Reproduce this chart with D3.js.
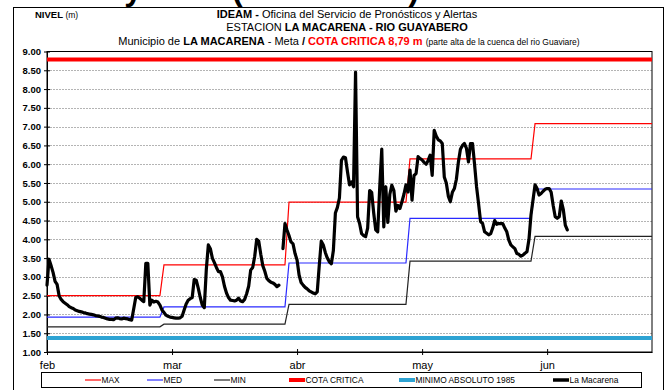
<!DOCTYPE html>
<html>
<head>
<meta charset="utf-8">
<script src="https://cdn.jsdelivr.net/npm/d3@7"></script>
<style>
  html, body { margin: 0; padding: 0; background: #fff; }
  svg { display: block; }
  .narrow { font-family: "Liberation Sans Narrow", "Arial Narrow", "Liberation Sans", Arial, sans-serif; }
  .sans { font-family: "Liberation Sans", Arial, sans-serif; }
</style>
</head>
<body>
<svg id="chart" width="671" height="390"></svg>
<script>
// Axis categories: one tick every 31 days, labelled with the month
const monthLabels = ["feb", "mar", "abr", "may", "jun"];
const tickDays = [0, 31, 62, 93, 124];
const lastDay = 150;

// Monthly reference levels (m), each month starting on the given day index
const monthStart = [0, 29, 60, 90, 121];
const maxLevel = [2.50, 3.32, 4.99, 6.14, 7.08];
const medLevel = [1.93, 2.20, 3.37, 4.56, 5.34];
const minLevel = [1.67, 1.74, 2.27, 3.42, 4.08];

// Fixed thresholds (m)
const cotaCritica = 8.79;
const minimoAbsoluto1985 = 1.37;

// Y axis
const yTicks = [1, 1.5, 2, 2.5, 3, 3.5, 4, 4.5, 5, 5.5, 6, 6.5, 7, 7.5, 8, 8.5, 9];

// Observed level at La Macarena, two readings per day starting on day 0 (null = missing)
const readingsPerDay = 2;
const laMacarena = [
  2.78, 3.47, 3.30, 3.12, 2.88, 2.80, 2.50, 2.40, 2.34, 2.30,
  2.26, 2.21, 2.18, 2.16, 2.12, 2.10, 2.08, 2.07, 2.05, 2.04,
  2.02, 2.01, 2.00, 1.99, 1.97, 1.96, 1.95, 1.93, 1.92, 1.90,
  1.88, 1.87, 1.87, 1.86, 1.90, 1.91, 1.89, 1.88, 1.90, 1.89,
  1.88, 1.86, 1.85, 2.15, 2.45, 2.47, 2.43, 2.38, 2.34, 3.36,
  3.36, 2.25, 2.38, 2.33, 2.35, 2.33, 2.25, 2.12, 2.05, 1.98,
  1.95, 1.93, 1.92, 1.91, 1.90, 1.90, 1.91, 1.95, 2.12, 2.28,
  2.38, 2.42, 2.45, 2.93, 2.91, 2.70, 2.45, 2.25, 2.18, 3.20,
  3.85, 3.75, 3.50, 3.38, 3.25, 3.14, 3.14, 3.00, 2.75, 2.57,
  2.45, 2.38, 2.37, 2.36, 2.38, 2.43, 2.36, 2.34, 2.40, 2.55,
  2.75, 3.18, 3.25, 3.55, 4.00, 3.95, 3.60, 3.30, 3.15, 2.96,
  2.90, 2.86, 2.84, 2.80, 2.74, 2.78, null, 3.75, 4.42, 4.25,
  4.10, 3.93, 3.88, 3.62, 3.45, 3.05, 2.85, 2.78, 2.72, 2.68,
  2.63, 2.60, 2.57, 2.55, 2.60, 3.30, 3.95, 3.85, 3.65, 3.50,
  3.40, 3.35, 3.70, 4.70, 4.85, 5.10, 6.10, 6.19, 6.17, 5.80,
  5.45, 5.53, 5.40, 8.45, 4.60, 4.42, 4.15, 4.10, 4.07, 4.30,
  5.30, 5.25, 4.70, 4.25, 4.20, 5.40, 6.40, 4.33, 5.40, 4.45,
  5.20, 5.44, 5.30, 4.75, 4.90, 4.82, 5.00, 5.20, 5.45, 5.26,
  5.84, 5.04, 5.70, 5.75, 6.20, 6.15, 6.11, 6.05, 6.00, 6.10,
  6.24, 5.70, 6.90, 6.75, 6.65, 6.62, 6.55, 5.66, 5.50, 5.15,
  5.00, 5.25, 5.35, 5.60, 6.06, 6.40, 6.50, 6.55, 6.42, 6.06,
  6.55, 6.55, 6.00, 5.40, 4.95, 4.47, 4.42, 4.20, 4.16, 4.12,
  4.15, 4.30, 4.50, 4.40, 4.42, 4.42, 4.42, 4.30, 4.20, 3.98,
  3.85, 3.80, 3.75, 3.62, 3.60, 3.55, 3.58, 3.63, 3.67, 4.00,
  4.65, 5.05, 5.45, 5.35, 5.18, 5.22, 5.28, 5.33, 5.35, 5.35,
  5.25, 4.90, 4.60, 4.56, 4.60, 5.02, 4.80, 4.38, 4.25
];

// Legend entries
const legendItems = [
  { label: "MAX", color: "#ff0000", width: 1.2 },
  { label: "MED", color: "#2a2aff", width: 1.2 },
  { label: "MIN", color: "#222222", width: 1.2 },
  { label: "COTA CRITICA", color: "#ff0000", width: 4 },
  { label: "MINIMO ABSOLUTO 1985", color: "#2ea3d3", width: 4 },
  { label: "La Macarena", color: "#000000", width: 3.5 }
];

// ---------------------------------------------------------------------------
const svg = d3.select("#chart");
const plot = { left: 47, right: 652, top: 51.5, bottom: 352 };

const x = d3.scaleLinear().domain([0, lastDay]).range([plot.left, plot.right]);
const y = d3.scaleLinear().domain([1, 9]).range([plot.bottom, plot.top]);

// Outer frame of the figure
svg.append("rect")
  .attr("x", 13.5).attr("y", 7.5).attr("width", 650).attr("height", 400)
  .attr("fill", "none").attr("stroke", "#000").attr("stroke-width", 1);

// Heading above the frame (only its lower edge falls inside the page)
svg.append("text").attr("class", "sans")
  .attr("x", 142).attr("y", 0).attr("text-anchor", "end")
  .attr("font-size", 32).attr("font-weight", "bold")
  .text("Niveles del rio y");
svg.append("text").attr("class", "sans")
  .attr("x", 232).attr("y", 0)
  .attr("font-size", 32).attr("font-weight", "bold")
  .attr("textLength", 187).attr("lengthAdjust", "spacingAndGlyphs")
  .text("(AMARILLA)");

// Titles
const t1 = svg.append("text").attr("class", "narrow")
  .attr("x", 347).attr("y", 17.5).attr("text-anchor", "middle").attr("font-size", 11);
t1.append("tspan").attr("font-weight", "bold").text("IDEAM - ");
t1.append("tspan").text("Oficina del Servicio de Pronósticos y Alertas");

const t2 = svg.append("text").attr("class", "narrow")
  .attr("x", 347).attr("y", 31).attr("text-anchor", "middle").attr("font-size", 11);
t2.append("tspan").text("ESTACION ");
t2.append("tspan").attr("font-weight", "bold").text("LA MACARENA - RIO GUAYABERO");

const t3 = svg.append("text").attr("class", "narrow")
  .attr("x", 349).attr("y", 44.5).attr("text-anchor", "middle").attr("font-size", 11);
t3.append("tspan").text("Municipio de ");
t3.append("tspan").attr("font-weight", "bold").text("LA MACARENA");
t3.append("tspan").text(" - Meta  ");
t3.append("tspan").attr("font-weight", "bold").text("/  ");
t3.append("tspan").attr("font-weight", "bold").attr("fill", "#ff0000").text("COTA CRITICA 8,79 m ");
t3.append("tspan").attr("font-size", 8.5).text("(parte alta de la cuenca del rio Guaviare)");

const yl = svg.append("text").attr("class", "narrow")
  .attr("x", 35).attr("y", 17.5).attr("font-size", 9.5);
yl.append("tspan").attr("font-weight", "bold").text("NIVEL ");
yl.append("tspan").attr("font-size", 8.5).text("(m)");

// Gridlines
svg.append("g")
  .selectAll("line")
  .data(yTicks.filter(v => v > 1 && v < 9))
  .join("line")
  .attr("x1", plot.left).attr("x2", plot.right)
  .attr("y1", d => Math.round(y(d)) + 0.5).attr("y2", d => Math.round(y(d)) + 0.5)
  .attr("stroke", "#b4b4b4").attr("stroke-width", 1).attr("stroke-dasharray", "2,1");

// Plot border
svg.append("rect")
  .attr("x", plot.left).attr("y", plot.top)
  .attr("width", plot.right - plot.left).attr("height", plot.bottom - plot.top)
  .attr("fill", "none").attr("stroke", "#000").attr("stroke-width", 1);

// Axes
const yAxis = d3.axisLeft(y).tickValues(yTicks).tickFormat(d3.format(".2f"))
  .tickSizeInner(3).tickSizeOuter(0).tickPadding(4);
const gy = svg.append("g").attr("transform", `translate(${plot.left},0)`).call(yAxis);
gy.select(".domain").attr("stroke", "#000");
gy.selectAll(".tick line").attr("x2", 3).attr("x1", -3).attr("stroke", "#000");
gy.selectAll("text").attr("class", "sans").attr("font-size", 9.5).attr("font-weight", "bold")
  .attr("fill", "#000").attr("x", -6);

const xAxis = d3.axisBottom(x).tickValues(tickDays)
  .tickFormat((d, i) => monthLabels[i]).tickSizeInner(3).tickSizeOuter(0).tickPadding(6);
const gx = svg.append("g").attr("transform", `translate(0,${plot.bottom})`).call(xAxis);
gx.select(".domain").attr("stroke", "#000");
gx.selectAll(".tick line").attr("y1", -3).attr("y2", 3).attr("stroke", "#000");
gx.selectAll("text").attr("class", "narrow").attr("font-size", 11).attr("fill", "#000");

// Daily series built from the monthly reference levels
function monthlySeries(levels) {
  const pts = [];
  for (let d = 0; d <= lastDay; d++) {
    const m = d3.bisectRight(monthStart, d) - 1;
    pts.push([d, levels[m]]);
  }
  return pts;
}

const line = d3.line().x(d => x(d[0])).y(d => y(d[1]));

const series = svg.append("g");

// Thresholds
series.append("path")
  .datum([[0, minimoAbsoluto1985], [lastDay, minimoAbsoluto1985]])
  .attr("d", line).attr("fill", "none")
  .attr("stroke", legendItems[4].color).attr("stroke-width", legendItems[4].width);
series.append("path")
  .datum([[0, cotaCritica], [lastDay, cotaCritica]])
  .attr("d", line).attr("fill", "none")
  .attr("stroke", legendItems[3].color).attr("stroke-width", legendItems[3].width);

[[minLevel, 2], [medLevel, 1], [maxLevel, 0]].forEach(([levels, i]) => {
  series.append("path")
    .datum(monthlySeries(levels))
    .attr("d", line).attr("fill", "none")
    .attr("stroke", legendItems[i].color).attr("stroke-width", legendItems[i].width);
});

// Observed level
const obsLine = d3.line()
  .defined(d => d[1] != null)
  .x(d => x(d[0])).y(d => y(d[1]));
series.append("path")
  .datum(laMacarena.map((v, i) => [i / readingsPerDay, v]))
  .attr("d", obsLine).attr("fill", "none")
  .attr("stroke", "#000").attr("stroke-width", 3.2)
  .attr("stroke-linejoin", "round").attr("stroke-linecap", "round");

// Legend
const legend = svg.append("g");
legend.append("rect")
  .attr("x", 41.5).attr("y", 372.5).attr("width", 600).attr("height", 15)
  .attr("fill", "#fff").attr("stroke", "#000").attr("stroke-width", 1);
const legendX = [85, 147, 214, 289, 399, 553];
legendItems.forEach((item, i) => {
  const g = legend.append("g").attr("transform", `translate(${legendX[i]},380)`);
  g.append("line").attr("x1", 0).attr("x2", 16).attr("y1", 0).attr("y2", 0)
    .attr("stroke", item.color).attr("stroke-width", item.width);
  g.append("text").attr("class", "narrow").attr("x", 16.5).attr("y", 3.2)
    .attr("font-size", 8.4).attr("fill", "#000").text(item.label);
});
</script>
</body>
</html>
